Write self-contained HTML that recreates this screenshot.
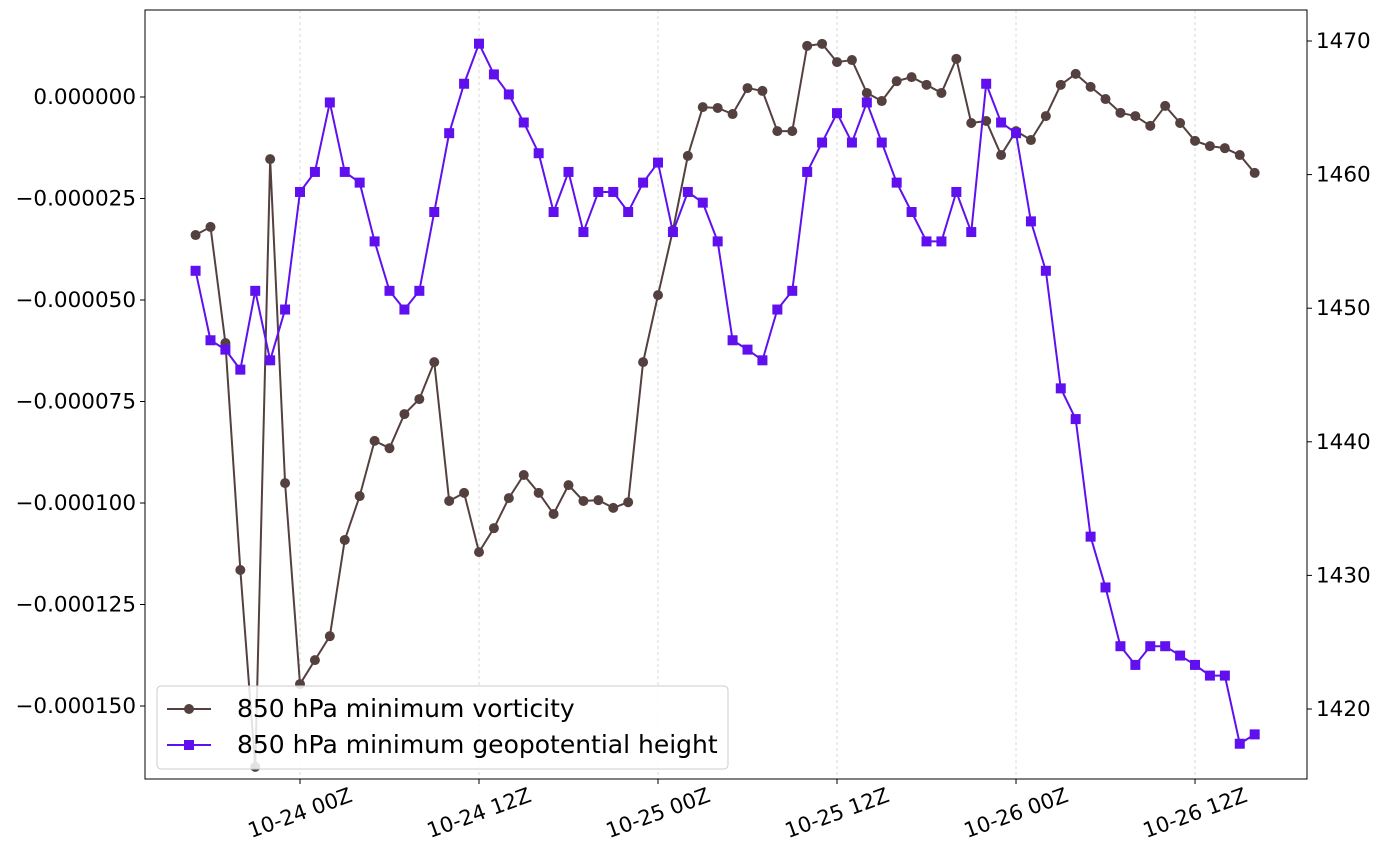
<!DOCTYPE html>
<html><head><meta charset="utf-8"><style>
body{margin:0;background:#fff;}
svg{display:block;font-family:"DejaVu Sans","Liberation Sans",sans-serif;}
</style></head><body>
<svg id="chart" width="1382" height="860" xmlns="http://www.w3.org/2000/svg"></svg>
<script>
const hours=[];for(let h=-7;h<=64;h++)hours.push(h);
const vorticity=[-34.0,-32.0,-60.6,-116.5,-165,-15.3,-95.1,-144.6,-138.7,-132.8,-109.1,-98.3,-84.7,-86.5,-78.1,-74.4,-65.3,-99.5,-97.5,-112.1,-106.2,-98.8,-93.1,-97.5,-102.7,-95.6,-99.5,-99.3,-101.2,-99.8,-65.3,-48.8,-32.8,-14.5,-2.5,-2.7,-4.2,2.2,1.5,-8.4,-8.4,12.6,13.1,8.6,9.1,1.0,-1.0,3.9,4.9,3.0,1.0,9.4,-6.4,-5.9,-14.3,-8.4,-10.6,-4.7,3.0,5.7,2.5,-0.5,-3.9,-4.7,-7.1,-2.2,-6.4,-10.8,-12.1,-12.6,-14.3,-18.7].map(v=>v*1e-6);
const height=[1452.8,1447.6,1446.9,1445.4,1451.3,1446.1,1449.9,1458.7,1460.2,1465.4,1460.2,1459.4,1455.0,1451.3,1449.9,1451.3,1457.2,1463.1,1466.8,1469.8,1467.5,1466.0,1463.9,1461.6,1457.2,1460.2,1455.7,1458.7,1458.7,1457.2,1459.4,1460.9,1455.7,1458.7,1457.9,1455.0,1447.6,1446.9,1446.1,1449.9,1451.3,1460.2,1462.4,1464.6,1462.4,1465.4,1462.4,1459.4,1457.2,1455.0,1455.0,1458.7,1455.7,1466.8,1463.9,1463.1,1456.5,1452.8,1444.0,1441.7,1432.9,1429.1,1424.7,1423.3,1424.7,1424.7,1424.0,1423.3,1422.5,1422.5,1417.4,1418.1];
const xTickHours=[0,12,24,36,48,60];
const xTickLabels=["10-24 00Z","10-24 12Z","10-25 00Z","10-25 12Z","10-26 00Z","10-26 12Z"];
const leftTicks=[0,-25e-6,-50e-6,-75e-6,-100e-6,-125e-6,-150e-6];
const leftTickLabels=["0.000000","\u22120.000025","\u22120.000050","\u22120.000075","\u22120.000100","\u22120.000125","\u22120.000150"];
const rightTicks=[1420,1430,1440,1450,1460,1470];

const L=145,R=1307,T=10,B=779;
const xs=h=>300+h*14.917;
const yl=v=>97-v/25e-6*101.5;
const yr=v=>41+(1470-v)*13.36;
const svg=document.getElementById('chart');
const NS='http://www.w3.org/2000/svg';
function mk(tag,attrs,parent){const e=document.createElementNS(NS,tag);for(const k in attrs)e.setAttribute(k,attrs[k]);(parent||svg).appendChild(e);return e;}

xTickHours.forEach((h,i)=>{
  const x=xs(h);
  const g=mk('line',{x1:x,x2:x,y1:T,y2:B,stroke:'#d8d8d8','stroke-dasharray':'3,3','stroke-width':1});
  
  
  const t=mk('line',{x1:x,x2:x,y1:B,y2:B+5,stroke:'#000'});
  
  
  const lb=mk('text',{x:x,y:B+41,'font-size':21,'text-anchor':'middle',transform:`rotate(-20 ${x} ${B+34})`});
  lb.textContent=xTickLabels[i];
  
  
});
leftTicks.forEach((v,i)=>{
  const y=yl(v);
  const t=mk('line',{x1:L-5,x2:L,y1:y,y2:y,stroke:'#000'});
  
  
  const lb=mk('text',{x:L-9,y:y+7,'font-size':21.5,'text-anchor':'end'});
  lb.textContent=leftTickLabels[i];
  
  
});
rightTicks.forEach(v=>{
  const y=yr(v);
  const t=mk('line',{x1:R,x2:R+5,y1:y,y2:y,stroke:'#000'});
  
  
  const lb=mk('text',{x:R+9,y:y+7,'font-size':21.5});
  lb.textContent=String(v);
  
  
});

const vp=hours.map((h,i)=>xs(h)+','+yl(vorticity[i])).join(' ');
const vl=mk('polyline',{points:vp,fill:'none',stroke:'#554040','stroke-width':2});


hours.forEach((h,i)=>{
  const c=mk('circle',{cx:xs(h),cy:yl(vorticity[i]),r:5,fill:'#554040'});
  
  
});
const hp=hours.map((h,i)=>xs(h)+','+yr(height[i])).join(' ');
const hl=mk('polyline',{points:hp,fill:'none',stroke:'#6010ee','stroke-width':2});


hours.forEach((h,i)=>{
  const r=mk('rect',{x:xs(h)-5,y:yr(height[i])-5,width:10,height:10,fill:'#6010ee'});
  
  
});

const frame=mk('rect',{x:L,y:T,width:R-L,height:B-T,fill:'none',stroke:'#000','stroke-width':1});



const lg=mk('g',{});


mk('rect',{x:157,y:686,width:571,height:83,rx:4,fill:'rgba(255,255,255,0.85)',stroke:'#ccc'},lg);
mk('line',{x1:167,x2:211,y1:709,y2:709,stroke:'#554040','stroke-width':2},lg);
mk('circle',{cx:189,cy:709,r:5,fill:'#554040'},lg);
const t1=mk('text',{x:237,y:717,'font-size':25},lg);t1.textContent='850 hPa minimum vorticity';


mk('line',{x1:167,x2:211,y1:745,y2:745,stroke:'#6010ee','stroke-width':2},lg);
mk('rect',{x:184,y:740,width:10,height:10,fill:'#6010ee'},lg);
const t2=mk('text',{x:237,y:753,'font-size':25},lg);t2.textContent='850 hPa minimum geopotential height';


</script>
</body></html>
